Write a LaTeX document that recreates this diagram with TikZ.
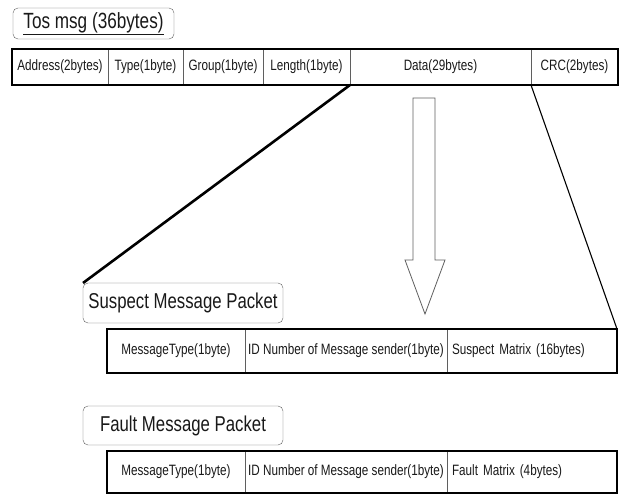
\documentclass[tikz,border=0pt]{standalone}
\usepackage{fontspec}
\setmainfont[FakeStretch=0.78]{Liberation Sans}
\usetikzlibrary{positioning}
\definecolor{PktGray}{RGB}{95,95,95}
\definecolor{PktText}{RGB}{25,25,25}
\tikzset{
  pkt/cell/.style={
    draw=PktGray,
    thin,
    minimum height=36,
    inner sep=1pt,
    outer sep=0pt,
    text=PktText,
    font=\fontsize{15}{17}\selectfont
  },
  pkt/leftcell/.style={
    pkt/cell,
    align=left,
    inner xsep=5pt
  },
  pkt/label/.style={
    draw=PktGray,
    rounded corners=5pt,
    fill=white,
    outer sep=0pt,
    text=PktText,
    font=\fontsize{21.5}{24}\selectfont
  },
  pkt/frame/.style={draw=black, line width=2pt},
  pkt/thickline/.style={line width=2.6pt, draw=black},
  pkt/thinline/.style={line width=1.1pt, draw=black},
  pkt/bigarrow/.style={draw=PktGray, fill=white, line width=0.8pt, line join=miter}
}

\begin{document}
\begin{tikzpicture}[x=1pt,y=-1pt]
  \useasboundingbox (0,0) rectangle (619,494);
  % Tos msg
  \node[pkt/label,minimum width=161,minimum height=31,font=\fontsize{22}{24}\selectfont] (tos) at (93.5,23.5) {\underline{Tos msg (36bytes)}};
  \node[pkt/cell,minimum width=96,anchor=north west] (addr) at (12,49) {Address(2bytes)};
  \node[pkt/cell,minimum width=75,right=0pt of addr] (type) {Type(1byte)};
  \node[pkt/cell,minimum width=80,right=0pt of type] (group) {Group(1byte)};
  \node[pkt/cell,minimum width=87,right=0pt of group] (length) {Length(1byte)};
  \node[pkt/cell,minimum width=181,right=0pt of length] (data) {Data(29bytes)};
  \node[pkt/cell,minimum width=87,right=0pt of data] (crc) {CRC(2bytes)};
  \draw[pkt/frame] (addr.north west) rectangle (crc.south east);

  % big arrow
  \draw[pkt/bigarrow] (413,98) -- (435,98) -- (435,260) -- (445,260) -- (425,314) -- (405,260) -- (413,260) -- cycle;

  % suspect packet
  \node[pkt/label,minimum width=200,minimum height=40] (suspect) at (183,303) {Suspect Message Packet};
  \node[pkt/cell,minimum width=138,minimum height=44,anchor=north west] (smtype) at (107,329) {MessageType(1byte)};
  \node[pkt/cell,minimum width=202,minimum height=44,right=0pt of smtype] (ssender) {ID Number of Message sender(1byte)};
  \node[pkt/leftcell,minimum width=170,text width=160,minimum height=44,right=0pt of ssender] (smatrix) {Suspect Matrix (16bytes)};
  \draw[pkt/frame] (smtype.north west) rectangle (smatrix.south east);

  % fault packet
  \node[pkt/label,minimum width=200,minimum height=39] (fault) at (183,425.5) {Fault Message Packet};
  \node[pkt/cell,minimum width=138,minimum height=42,anchor=north west] (fmtype) at (107,451) {MessageType(1byte)};
  \node[pkt/cell,minimum width=202,minimum height=42,right=0pt of fmtype] (fsender) {ID Number of Message sender(1byte)};
  \node[pkt/leftcell,minimum width=170,text width=160,minimum height=42,right=0pt of fsender] (fmatrix) {Fault Matrix (4bytes)};
  \draw[pkt/frame] (fmtype.north west) rectangle (fmatrix.south east);

  % expansion lines
  \draw[pkt/thickline] (length.south east) -- (suspect.north west);
  \draw[pkt/thinline] (data.south east) -- (smatrix.north east);
\end{tikzpicture}
\end{document}
